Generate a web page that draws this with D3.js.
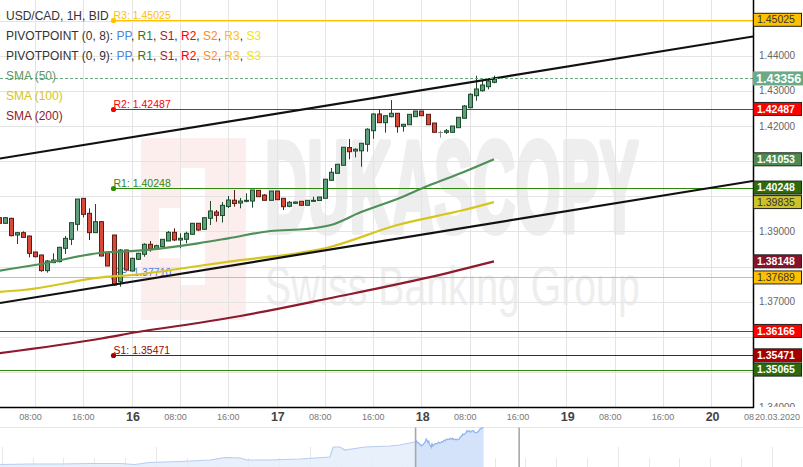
<!DOCTYPE html>
<html><head><meta charset="utf-8"><title>USD/CAD 1H</title>
<script src="https://cdn.jsdelivr.net/npm/d3@7/dist/d3.min.js"></script>
<style>
html,body{margin:0;padding:0;background:#fff;}
svg{display:block;font-family:"Liberation Sans",Arial,Helvetica,sans-serif;}
</style></head><body>
<svg id="chart" width="803" height="467"></svg>
<script>
// ---------------- DATA ----------------
// hourly candles, hour offset from 16.03.2020 00:00
const candleHours = d3.range(-22, 61);
const openPrices = [1.39391,1.39230,1.39372,1.38897,1.38964,1.38869,1.38413,1.38328,1.37882,1.38110,1.38138,1.38518,1.38774,1.39201,1.39941,1.39514,1.38964,1.39277,1.38404,1.38897,1.37569,1.38470,
  1.37872,1.38206,1.38348,1.38633,1.38499,1.38564,1.38727,1.38974,1.38755,1.38775,1.38918,1.39231,1.39060,1.39373,1.39552,1.39452,1.39709,1.39888,1.39808,1.39857,1.39865,1.40170,1.40036,1.39885,
  1.40150,1.39943,1.39714,1.39800,1.39857,1.39743,1.39857,1.39880,1.39943,1.40455,1.40654,1.40882,1.41389,1.41289,1.41295,1.41480,1.41867,1.42343,1.42095,1.42266,
  1.42363,1.41993,1.42038,1.42266,1.42428,1.42334,1.42086,1.41839,1.41822,1.41822,1.41953,1.42221,1.42523,1.42864,1.43006,1.43120,1.43245];
const highPrices = [1.39410,1.39410,1.39390,1.38980,1.39002,1.38880,1.38420,1.38340,1.38186,1.38375,1.38560,1.38869,1.39249,1.39922,1.39941,1.39657,1.39780,1.39290,1.38410,1.38900,1.38499,1.38480,
  1.38250,1.38393,1.38661,1.38727,1.38620,1.38780,1.39011,1.39088,1.38946,1.38992,1.39240,1.39240,1.39400,1.39866,1.39609,1.39837,1.40008,1.40179,1.39951,1.40085,1.40179,1.40179,1.40065,1.40150,
  1.40150,1.39943,1.39865,1.39850,1.39860,1.39885,1.39988,1.39979,1.40486,1.40805,1.40911,1.41403,1.41631,1.41366,1.41509,1.41936,1.42363,1.42457,1.42294,1.42741,
  1.42363,1.42050,1.42334,1.42428,1.42428,1.42334,1.42086,1.41867,1.41916,1.42001,1.42249,1.42599,1.42932,1.43433,1.43311,1.43311,1.43433];
const lowPrices = [1.39210,1.39210,1.38860,1.38641,1.38820,1.38261,1.38261,1.37853,1.37825,1.38100,1.38120,1.38356,1.38613,1.39021,1.39400,1.38755,1.38964,1.38290,1.38010,1.37445,1.37426,1.37890,
  1.37860,1.38186,1.38279,1.38422,1.38470,1.38560,1.38727,1.38727,1.38519,1.38661,1.38910,1.39011,1.39050,1.39182,1.39276,1.39253,1.39666,1.39703,1.39658,1.39829,1.39675,1.39988,1.39885,1.39885,
  1.39903,1.39609,1.39686,1.39790,1.39740,1.39740,1.39857,1.39870,1.39943,1.40444,1.40654,1.40882,1.41053,1.41110,1.40842,1.41269,1.41639,1.42095,1.41810,1.42249,
  1.41810,1.41839,1.42038,1.42266,1.42294,1.42038,1.41822,1.41668,1.41773,1.41822,1.41953,1.42221,1.42505,1.42721,1.42978,1.43046,1.43217];
const closePrices = [1.39230,1.39391,1.38878,1.38964,1.38831,1.38375,1.38280,1.37882,1.38157,1.38186,1.38546,1.38802,1.39249,1.39922,1.39486,1.38964,1.39277,1.38299,1.38015,1.37474,1.38470,1.37901,
  1.38233,1.38376,1.38633,1.38499,1.38593,1.38775,1.38974,1.38755,1.38803,1.38946,1.39231,1.39040,1.39390,1.39581,1.39458,1.39743,1.39894,1.39794,1.39865,1.39885,1.40179,1.39988,1.39885,1.40150,
  1.39903,1.39703,1.39829,1.39837,1.39743,1.39885,1.39885,1.39979,1.40486,1.40683,1.40911,1.41397,1.41269,1.41340,1.41509,1.41910,1.42343,1.42095,1.42294,1.42363,
  1.41981,1.42050,1.42334,1.42428,1.42294,1.42038,1.41822,1.41839,1.41867,1.42001,1.42249,1.42571,1.42904,1.43055,1.43169,1.43282,1.43356];

// moving averages (sampled)
const sma50Hours = [-22,-15,-5,1,11,16,23,29,33,38,44,49,55,60];
const sma50Values = [1.37881,1.38072,1.38393,1.38450,1.38661,1.38803,1.39011,1.39068,1.39182,1.39552,1.39923,1.40293,1.40691,1.41053];
const sma100Hours = [-22,-18,-4,0,11,16,33,44,55,60];
const sma100Values = [1.37274,1.37331,1.37710,1.37758,1.38015,1.38137,1.38564,1.39182,1.39609,1.39835];
const sma200Hours = [-22,-5,1,11,18,33,49,60];
const sma200Values = [1.35529,1.35950,1.36135,1.36392,1.36592,1.37104,1.37682,1.38148];

// pivot points
const pivot8Names = ["R3","R2","R1","PP","S1"];
const pivot8Values = [1.45025,1.42487,1.40248,1.37710,1.35471];
const pivot8StartHour = -3;
const pivot9Names = ["R3","R2","R1"];
const pivot9Values = [1.37689,1.36166,1.35065];

// trend channel (hour, price)
const trendHours = [-21.8, 102.9];
const upperTrend = [1.41076, 1.44550];
const lowerTrend = [1.36961, 1.40435];

// axes
const priceTicks = [1.34,1.35,1.36,1.37,1.38,1.39,1.40,1.41,1.42,1.43,1.44,1.45];
const timeTickHours = [-16,-8,0,8,16,24,32,40,48,56,64,72,80,88,96,104];
const timeTickLabels = ["08:00","16:00","16","08:00","16:00","17","08:00","16:00","18","08:00","16:00","19","08:00","16:00","20","08"];
const dateLabel = "20.03.2020";

// navigator history (hour, price) before the visible window
const navHours = [-522,-486,-450,-414,-378,-360,-342,-305,-269,-251,-233,-225,-197,-161,-125,-121,-113,-107,-83,-53,-41,-23];
const navValues = [1.32438,1.32585,1.32585,1.32733,1.32733,1.32438,1.33028,1.33323,1.33765,1.34503,1.34355,1.33765,1.33765,1.34060,1.34650,1.37600,1.37600,1.36715,1.37600,1.37895,1.38190,1.39075];

// ---------------- CHART ----------------
const svg = d3.select("#chart");
const PR = 753, PB = 407;
const x = d3.scaleLinear().domain([-21.8, 102.9]).range([0, PR]);
const y = d3.scaleLinear().domain([1.34, 1.45589]).range([PB, 0]);
const last = closePrices[closePrices.length-1];

const C = {
  PP:"#4a86e8", R1:"#38761d", S1:"#a61c1c", R2:"#ff0000", S2:"#ff8c1a", R3:"#ffc000", S3:"#f2e600",
  sma50:"#5b9a62", sma100:"#d4c424", sma200:"#8e1a2c",
  up:"#5f9e7a", upB:"#1e4b2c", dn:"#d9493b", dnB:"#5b1c14", grid:"#e4e4e4"
};
const lineCol = {R3:"#ffc000", R2:"#ff0000", R1:"#2f8a0c", PP:"#4a86e8", S1:"#a00000"};

const defs = svg.append("defs");
defs.append("clipPath").attr("id","plot").append("rect").attr("x",0).attr("y",0).attr("width",PR).attr("height",PB);
defs.append("clipPath").attr("id","axisclip").append("rect").attr("x",PR).attr("y",0).attr("width",803-PR).attr("height",PB);

// watermark
const wm = svg.append("g");
wm.append("rect").attr("x",141).attr("y",138).attr("width",105).attr("height",182).attr("fill","#fdeeee");
wm.append("rect").attr("x",159).attr("y",208).attr("width",46).attr("height",50).attr("fill","#fff");
wm.append("rect").attr("x",180).attr("y",168).attr("width",25).attr("height",40).attr("fill","#fff");
wm.append("rect").attr("x",180).attr("y",258).attr("width",25).attr("height",27).attr("fill","#fff");
wm.append("text").attr("transform","translate(265,232) scale(0.45,1)")
  .attr("font-size",130).attr("font-weight","bold").attr("fill","#eeeeee")
  .attr("stroke","#eeeeee").attr("stroke-width",6).attr("stroke-linejoin","round").text("DUKASCOPY");
wm.append("text").attr("transform","translate(265,305) scale(0.70,1)")
  .attr("font-size",56).attr("fill","#eeeeee").text("Swiss Banking Group");

// grid
const grid = svg.append("g").attr("stroke",C.grid).attr("stroke-width",1);
grid.selectAll("line.h").data(priceTicks).join("line").attr("class","h")
  .attr("x1",0).attr("x2",PR).attr("y1",d=>Math.round(y(d))+0.5).attr("y2",d=>Math.round(y(d))+0.5);
grid.selectAll("line.v").data(timeTickHours.filter(h=>x(h)<PR)).join("line").attr("class","v")
  .attr("y1",0).attr("y2",PB).attr("x1",d=>Math.round(x(d))+0.5).attr("x2",d=>Math.round(x(d))+0.5);

const plot = svg.append("g").attr("clip-path","url(#plot)");

// pivot (0,8) lines starting at a point
pivot8Names.forEach((n,i)=>{
  const v = pivot8Values[i], yy = Math.round(y(v))+0.5;
  plot.append("line").attr("x1",x(pivot8StartHour)).attr("x2",PR).attr("y1",yy).attr("y2",yy)
    .attr("stroke",lineCol[n]).attr("stroke-width",1);
  plot.append("circle").attr("cx",x(pivot8StartHour)).attr("cy",yy).attr("r",2.6).attr("fill",lineCol[n]);
  plot.append("text").attr("x",x(pivot8StartHour)).attr("y",yy-2).attr("font-size",10.5)
    .attr("fill",lineCol[n]).text(n+": "+v.toFixed(5));
});
// pivot (0,9) full-width lines
pivot9Names.forEach((n,i)=>{
  const yy = Math.round(y(pivot9Values[i]))+0.5;
  plot.append("line").attr("x1",0).attr("x2",PR).attr("y1",yy).attr("y2",yy)
    .attr("stroke",lineCol[n]).attr("stroke-width",1);
});

// candles
const candles = candleHours.map((h,i)=>({h,o:openPrices[i],hi:highPrices[i],lo:lowPrices[i],c:closePrices[i]}));
const cg = plot.append("g");
candles.forEach(d=>{
  const doji = Math.abs(d.o-d.c) < 0.00002;
  const up = d.c >= d.o;
  const border = doji ? "#888" : (up ? C.upB : C.dnB);
  const cx = Math.round(x(d.h))+0.5;
  cg.append("line").attr("x1",cx).attr("x2",cx).attr("y1",y(d.hi)).attr("y2",y(d.lo)).attr("stroke",border).attr("stroke-width",1);
  if (doji) {
    cg.append("line").attr("x1",cx-2.5).attr("x2",cx+2.5).attr("y1",Math.round(y(d.c))+0.5).attr("y2",Math.round(y(d.c))+0.5).attr("stroke",border);
  } else {
    const t = y(Math.max(d.o,d.c)), b = y(Math.min(d.o,d.c));
    cg.append("rect").attr("x",cx-2).attr("width",4).attr("y",t).attr("height",Math.max(1,b-t))
      .attr("fill",up?C.up:C.dn).attr("stroke",border).attr("stroke-width",1);
  }
});

// SMAs
const smaLine = d3.line().x(d=>x(d[0])).y(d=>y(d[1])).curve(d3.curveMonotoneX);
[[sma50Hours,sma50Values,"#4f9058"],[sma100Hours,sma100Values,"#d6c51e"],[sma200Hours,sma200Values,"#8e1a2c"]].forEach(([hs,vs,col])=>{
  plot.append("path").attr("d",smaLine(hs.map((h,i)=>[h,vs[i]]))).attr("fill","none").attr("stroke",col).attr("stroke-width",2.2);
});

// trend channel
[upperTrend, lowerTrend].forEach(vals=>{
  plot.append("line").attr("x1",x(trendHours[0])).attr("x2",x(trendHours[1]))
    .attr("y1",y(vals[0])).attr("y2",y(vals[1])).attr("stroke","#111").attr("stroke-width",2.2);
});

// current price dashed line
plot.append("line").attr("x1",0).attr("x2",PR).attr("y1",Math.round(y(last))+0.5).attr("y2",Math.round(y(last))+0.5)
  .attr("stroke","#6aa884").attr("stroke-dasharray","3,2").attr("stroke-width",1);

// legend
const lg = svg.append("g").attr("font-size",12).attr("fill","#333");
lg.append("text").attr("x",6).attr("y",20).text("USD/CAD, 1H, BID");
["PIVOTPOINT (0, 8): ","PIVOTPOINT (0, 9): "].forEach((t,k)=>{
  const tx = lg.append("text").attr("x",6).attr("y",40+20*k);
  tx.append("tspan").text(t);
  const names = ["PP","R1","S1","R2","S2","R3","S3"];
  names.forEach((n,j)=>{
    tx.append("tspan").attr("fill",C[n]).text(n);
    if (j<names.length-1) tx.append("tspan").text(", ");
  });
});
lg.append("text").attr("x",6).attr("y",80).attr("fill",C.sma50).text("SMA (50)");
lg.append("text").attr("x",6).attr("y",100).attr("fill",C.sma100).text("SMA (100)");
lg.append("text").attr("x",6).attr("y",120).attr("fill",C.sma200).text("SMA (200)");

// axes lines
svg.append("line").attr("x1",PR+0.5).attr("x2",PR+0.5).attr("y1",0).attr("y2",PB+1).attr("stroke","#000").attr("stroke-width",1.5);
svg.append("line").attr("x1",0).attr("x2",PR+1).attr("y1",PB+0.5).attr("y2",PB+0.5).attr("stroke","#000").attr("stroke-width",1.5);

// right value boxes
const boxes = [
  [pivot8Values[0],"#ffc000","#333"],
  [pivot8Values[1],"#ff0000","#fff"],
  [sma50Values[sma50Values.length-1],"#4e8a50","#fff"],
  [pivot8Values[2],"#2d6a0c","#fff"],
  [sma100Values[sma100Values.length-1],"#cdc22c","#333"],
  [sma200Values[sma200Values.length-1],"#86142a","#fff"],
  [pivot9Values[0],"#ffc000","#333"],
  [pivot9Values[1],"#ff0000","#fff"],
  [pivot8Values[4],"#a30000","#fff"],
  [pivot9Values[2],"#2d6a0c","#fff"]
];
const boxYs = boxes.map(b=>y(b[0])).concat([y(last)]);

// price tick labels (those hidden behind value boxes are not drawn)
svg.append("g").attr("clip-path","url(#axisclip)").selectAll("text")
  .data(priceTicks.filter(t=>boxYs.every(by=>Math.abs(by-y(t))>=11))).join("text")
  .attr("x",759).attr("y",d=>y(d)+3.5).attr("font-size",10).attr("fill","#666").text(d=>d.toFixed(5));

const bg = svg.append("g");
boxes.forEach(([v,f,t])=>{
  const yy = y(v);
  bg.append("rect").attr("x",753.5).attr("y",yy-6.5).attr("width",48).attr("height",13).attr("fill",f).attr("stroke","#222").attr("stroke-width",1);
  bg.append("text").attr("x",757).attr("y",yy+3.6).attr("font-size",10.5).attr("font-weight",t==="#fff"?"bold":"normal").attr("fill",t).text(v.toFixed(5));
});
// current price box
bg.append("rect").attr("x",753).attr("y",y(last)-7).attr("width",50).attr("height",14).attr("fill","#6aaa86");
bg.append("text").attr("x",756).attr("y",y(last)+4.5).attr("font-size",12.5).attr("font-weight","bold").attr("fill","#fff").text(last.toFixed(5));

// time axis labels
const ta = svg.append("g");
timeTickHours.forEach((h,i)=>{
  const lab = timeTickLabels[i];
  const isDay = lab.length <= 2 && lab !== "08";
  const partial = lab === "08";
  const off = lab==="08:00" ? -4.5 : (isDay ? 1.3 : 0);
  ta.append("text").attr("x",partial ? 744 : x(h)+off).attr("y",isDay?421:420)
    .attr("text-anchor",partial?"start":"middle")
    .attr("font-size",isDay?12.5:9).attr("font-weight",isDay?"bold":"normal").attr("fill",isDay?"#444":"#777").text(lab);
});
ta.append("text").attr("x",755).attr("y",420).attr("font-size",9).attr("fill","#777").text(dateLabel);

// navigator
const navTop = 427.5, navBot = 467;
svg.append("line").attr("x1",0).attr("x2",803).attr("y1",navTop).attr("y2",navTop).attr("stroke","#e6e6e6");
const xN = d3.scaleLinear().domain([-522.2, 444.7]).range([0, 803]);
const yN = d3.scaleLinear().domain([1.32, 1.435]).range([466, 427]);
const ng = svg.append("g").attr("stroke","#e8e8e8");
d3.range(0,27).forEach(k=>{
  const xx = Math.round(1.7+30.8*k)+0.5;
  ng.append("line").attr("x1",xx).attr("x2",xx).attr("y1",k%5===0?447:458).attr("y2",navBot);
});
const navData = navHours.map((h,i)=>[h,navValues[i]]).concat(candleHours.map((h,i)=>[h,closePrices[i]]));
const area = d3.area().x(d=>xN(d[0])).y0(navBot).y1(d=>yN(d[1]));
const nline = d3.line().x(d=>xN(d[0])).y(d=>yN(d[1]));
svg.append("path").attr("d",area(navData)).attr("fill","#e4edfb").attr("fill-opacity",0.85);
svg.append("path").attr("d",nline(navData)).attr("fill","none").attr("stroke","#b7cdf3").attr("stroke-width",1.2);
defs.append("clipPath").attr("id","win").append("rect").attr("x",xN(-21.8)).attr("y",navTop).attr("width",xN(102.9)-xN(-21.8)).attr("height",navBot-navTop);
const wg = svg.append("g").attr("clip-path","url(#win)");
wg.append("path").attr("d",area(navData)).attr("fill","#d5e3fa");
wg.append("path").attr("d",nline(navData)).attr("fill","none").attr("stroke","#93b5ee").attr("stroke-width",1.2);
[-21.8,102.9].forEach(h=>{
  svg.append("line").attr("x1",xN(h)).attr("x2",xN(h)).attr("y1",navTop).attr("y2",navBot).attr("stroke","#a8a8a8").attr("stroke-width",1.6);
});
</script>
</body></html>
